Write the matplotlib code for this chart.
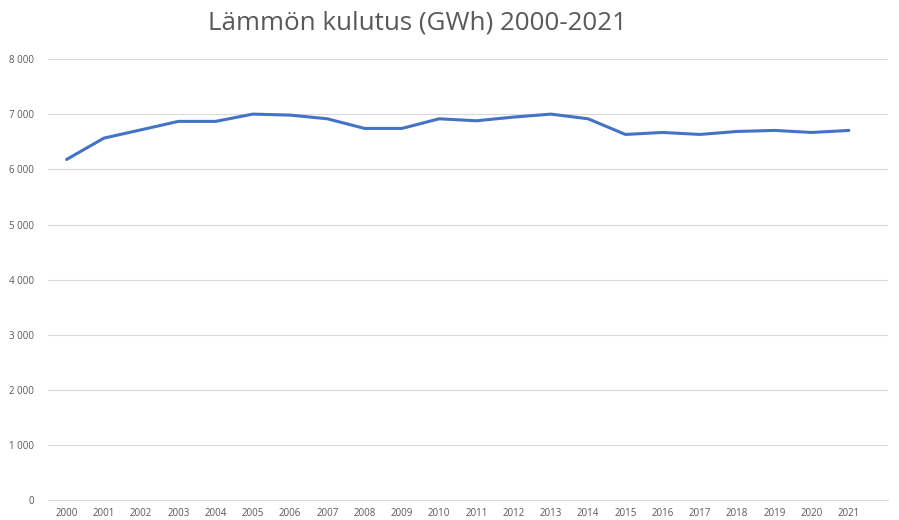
#! /usr/bin/env python3

import numpy as np
import matplotlib.pyplot as plt
from matplotlib.ticker import FuncFormatter

years = [str(y) for y in range(2000, 2022)]
kulutus = [6182, 6569, 6720, 6873, 6873, 7005, 6987, 6920, 6745, 6745, 6920,
           6884, 6951, 7005, 6920, 6636, 6672, 6636, 6690, 6709, 6672, 6709]

plt.rcParams['font.family'] = ['Open Sans', 'DejaVu Sans']

fig = plt.figure(figsize=(8.99, 5.20), dpi=100)
ax = fig.add_axes([48/899, 20/520, 840/899, 440.7/520])

x = np.arange(len(years))
ax.plot(x, kulutus, color='#4472C4', linewidth=2.2, solid_capstyle='round')

ax.set_ylim(0, 8000)
ax.set_yticks(range(0, 8001, 1000))
ax.yaxis.set_major_formatter(FuncFormatter(lambda v, p: f"{int(v):,}".replace(",", " ")))
ax.set_xlim(-0.5, 22.05)
ax.set_xticks(x)
ax.set_xticklabels(years)

ax.grid(axis='y', color='#D9D9D9', linewidth=0.8)
ax.set_axisbelow(True)
for s in ['top', 'right', 'left']:
	ax.spines[s].set_visible(False)
ax.spines['bottom'].set_color('#D9D9D9')
ax.spines['bottom'].set_linewidth(0.8)
ax.tick_params(axis='both', length=0, labelsize=7, labelcolor='#595959')
ax.tick_params(axis='y', pad=10)
ax.tick_params(axis='x', pad=6)

fig.text(417/899, 1 - 23/520, "Lämmön kulutus (GWh) 2000-2021", ha='center', va='center',
		 fontsize=18.7, color='#595959')

plt.savefig('out.png', dpi=100)
plt.close()
